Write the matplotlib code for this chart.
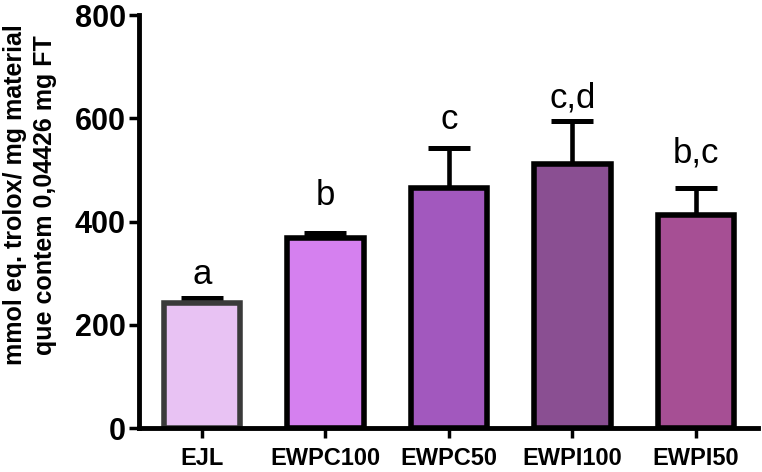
import matplotlib
matplotlib.use('Agg')
import matplotlib.pyplot as plt
import numpy as np

# data
groups = ['EJL', 'EWPC100', 'EWPC50', 'EWPI100', 'EWPI50']
means = [243, 369, 465, 511, 412]
sd = [9, 9, 77, 83, 52]
letters = ['a', 'b', 'c', 'c,d', 'b,c']

fill_colors = ['#E8C2F3', '#D580EF', '#A258BE', '#8A4F92', '#A64F94']
edge_colors = ['#3a3a3a', 'black', 'black', 'black', 'black']
# gap (in points) between the top of the error bar and its letter
letter_gap = [5, 15, 9, 5, 14]

plt.rcParams['font.family'] = ['Liberation Sans', 'DejaVu Sans']

fig = plt.figure(figsize=(7.62, 4.72), dpi=100)
ax = fig.add_axes([0.1824, 0.0932, 0.812, 0.875])

x = np.arange(len(groups))

# upper error bars only, drawn behind the bars
ax.errorbar(x, means, yerr=[np.zeros(len(sd)), sd], fmt='none',
            ecolor='black', elinewidth=3.3, capsize=14.8, capthick=3.6, zorder=1)
ax.bar(x, means, width=0.62, color=fill_colors, edgecolor=edge_colors,
       linewidth=4, zorder=2)

for xi, m, s, lab, g in zip(x, means, sd, letters, letter_gap):
    ax.annotate(lab, (xi, m + s), xytext=(0, g), textcoords='offset points',
                ha='center', va='bottom', fontsize=25)

ax.set_xlim(-0.51, 4.5)
ax.set_ylim(0, 800)
ax.set_yticks([0, 200, 400, 600, 800])
ax.set_xticks(x)
ax.set_xticklabels(groups, fontsize=17, fontweight='bold')
for t in ax.get_yticklabels():
    t.set_fontsize(22)
    t.set_fontweight('bold')

ax.spines['top'].set_visible(False)
ax.spines['right'].set_visible(False)
ax.spines['left'].set_linewidth(3.5)
ax.spines['bottom'].set_linewidth(3.5)
ax.tick_params(axis='both', length=7.5, width=2.5, color='black')
ax.tick_params(axis='y', pad=2)
ax.tick_params(axis='x', pad=6)

ax.set_ylabel('mmol eq. trolox/ mg material\nque contem 0,04426 mg FT',
              fontsize=18, fontweight='bold', linespacing=1.3)
ax.yaxis.set_label_coords(-0.1325, 0.564)

fig.savefig('out.png', dpi=100)
